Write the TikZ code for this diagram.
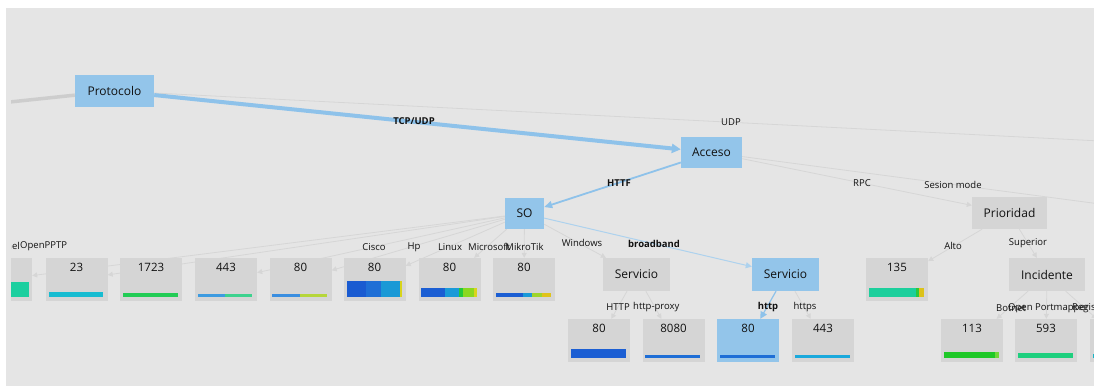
\documentclass[tikz,border=0pt]{standalone}
\usepackage{fontspec}
\setmainfont{Open Sans}
\usetikzlibrary{arrows.meta}
\definecolor{bgc}{HTML}{E5E5E5}
\definecolor{boxgray}{HTML}{D5D5D5}
\definecolor{boxblue}{HTML}{93C5EA}
\definecolor{edgeblue}{HTML}{8EC2EA}
\definecolor{edgeblueL}{HTML}{ADD2EE}
\definecolor{edgec}{HTML}{D6D6D6}
\definecolor{thickgray}{HTML}{CDCDCD}
\definecolor{txt}{HTML}{111111}
\pgfdeclarelayer{bglayer}
\pgfdeclarelayer{edgelayer}
\pgfsetlayers{bglayer,edgelayer,main}
\newcommand\barseg[5]{\definecolor{tmpbar}{HTML}{#2}\fill[tmpbar] ([xshift=#3pt,yshift=4.5pt]#1.south west) rectangle ([xshift=#4pt,yshift=4.5pt+#5pt]#1.south west);}
\tikzset{
  nodebase/.style={inner sep=0pt, text=txt, font=\fontsize{12}{14}\selectfont},
  bluebox/.style={nodebase, fill=boxblue},
  graybox/.style={nodebase, fill=boxgray},
  numbox/.style={fill=boxgray, minimum width=62pt, minimum height=43pt, inner sep=0pt,
    text height=9pt, text depth=26pt, font=\fontsize{11.5}{13}\selectfont, text=txt},
  numboxblue/.style={numbox, fill=boxblue},
  edge/.style={draw=edgec, line width=0.8pt, -{Triangle[length=5pt,width=5pt]}},
  lbl/.style={font=\fontsize{9.5}{11}\selectfont, text=txt, inner sep=0pt},
  lblb/.style={font=\fontsize{9.5}{11}\selectfont\bfseries, text=txt, inner sep=0pt},
}
\begin{document}
\begin{tikzpicture}[x=1pt,y=-1pt]
\useasboundingbox (0,0) rectangle (1094,387);
\begin{pgfonlayer}{bglayer}
  \fill[white] (0,0) rectangle (1094,387);
  \fill[bgc] (6,8) rectangle (1094,386);
\end{pgfonlayer}
\begin{scope}
\clip (11,8) rectangle (1094,386);
% main nodes
\node[bluebox, minimum width=79pt, minimum height=32pt] (proto) at (114.5,91) {Protocolo};
\node[bluebox, minimum width=61pt, minimum height=31pt] (acceso) at (711.5,152.5) {Acceso};
\node[bluebox, minimum width=39pt, minimum height=31pt] (so) at (524.5,213.5) {SO};
\node[graybox, minimum width=75pt, minimum height=32pt] (prio) at (1009.5,213) {Prioridad};
\node[graybox, minimum width=67pt, minimum height=33pt] (srvA) at (636.5,274.5) {Servicio};
\node[bluebox, minimum width=67pt, minimum height=33pt] (srvB) at (785.5,274.5) {Servicio};
\node[graybox, minimum width=76pt, minimum height=33pt] (inc) at (1047,274.5) {Incidente};
% number boxes row 1
\node[numbox] (bA) at (1,279.5) {};
\node[numbox] (b23) at (76.5,279.5) {23};
\node[numbox] (b1723) at (151,279.5) {1723};
\node[numbox] (b443) at (226,279.5) {443};
\node[numbox] (b80a) at (300.5,279.5) {80};
\node[numbox] (b80c) at (374.5,279.5) {80};
\node[numbox] (b80l) at (449.5,279.5) {80};
\node[numbox] (b80m) at (524,279.5) {80};
\node[numbox] (b135) at (897,279.5) {135};
% row 2
\node[numbox] (b80h) at (599,340.5) {80};
\node[numbox] (b8080) at (673.5,340.5) {8080};
\node[numboxblue] (b80b) at (748,340.5) {80};
\node[numbox] (b443s) at (823,340.5) {443};
\node[numbox] (b113) at (972,340.5) {113};
\node[numbox] (b593) at (1046,340.5) {593};
\node[numbox] (bX) at (1121,340.5) {};
% bars
\barseg{bA}{1CCF9F}{3}{59}{15}
\barseg{b23}{17BCD1}{4}{58}{5}
\barseg{b1723}{22CC55}{3}{58}{4}
\barseg{b443}{3D9BE0}{3}{30}{3}
\barseg{b443}{3DD28E}{30}{57}{3}
\barseg{b80a}{3A8EE0}{3}{31}{3}
\barseg{b80a}{B6D63A}{31}{58}{3}
\barseg{b80c}{1A5BD1}{4}{23}{16}
\barseg{b80c}{1F6FD6}{23}{38}{16}
\barseg{b80c}{1A99D6}{38}{57}{16}
\barseg{b80c}{D8D41A}{57}{59}{16}
\barseg{b80l}{1B5ED3}{3}{27}{9}
\barseg{b80l}{1A9AD8}{27}{41}{9}
\barseg{b80l}{22C93C}{41}{45}{9}
\barseg{b80l}{8AD820}{45}{56}{9}
\barseg{b80l}{D9D41C}{56}{59}{9}
\barseg{b80m}{1B5ED3}{3}{30}{4}
\barseg{b80m}{1A9AD8}{30}{39}{4}
\barseg{b80m}{9ED52B}{39}{49}{4}
\barseg{b80m}{E0C31A}{49}{58}{4}
\barseg{b135}{1CCF9C}{3}{50}{9}
\barseg{b135}{2CC83A}{50}{53}{9}
\barseg{b135}{DCC21A}{53}{58}{9}
\barseg{b80h}{1B5ED3}{3}{58}{9}
\barseg{b8080}{1E6ED6}{3}{58}{3}
\barseg{b80b}{1E6ED6}{3}{58}{3}
\barseg{b443s}{1AA9DC}{3}{58}{3}
\barseg{b113}{1FC828}{3}{54}{6}
\barseg{b113}{6FD83A}{54}{58}{6}
\barseg{b593}{1ECF7E}{3}{58}{5}
\barseg{bX}{1AB3C4}{3}{58}{4}
% free ends
\coordinate (offL) at (5,102.5);
\coordinate (offR1) at (1100,141);
\coordinate (offR2) at (1100,204);
% edge labels
\node[lblb] (lTCP) at (414,121) {TCP/UDP};
\node[lbl] (lUDP) at (731,122) {UDP};
\node[lblb] (lHTTF) at (619,183) {HTTF};
\node[lbl] (lRPC) at (862,183) {RPC};
\node[lbl] (lSes) at (953,185) {Sesion mode};
\node[lbl, anchor=east] (lTun) at (20,246) {Tunnel};
\node[lbl, anchor=west] (lPPTP) at (20,246) {OpenPPTP};
\node[lbl] (lCisco) at (374,247) {Cisco};
\node[lbl] (lHp) at (414,247) {Hp};
\node[lbl] (lLinux) at (450,247) {Linux};
\node[lbl, anchor=west] (lMS) at (468,247) {Microsoft};
\node[lbl] (lMikro) at (524.5,247) {MikroTik};
\node[lbl] (lWin) at (582,243) {Windows};
\node[lblb] (lBroad) at (654,244) {broadband};
\node[lbl] (lHTTP) at (618,307) {HTTP};
\node[lbl, anchor=west] (lProxy) at (633,307) {http-proxy};
\node[lblb] (lhttp) at (768,307) {http};
\node[lbl] (lhttps) at (805,307) {https};
\node[lbl] (lAlto) at (953,246) {Alto};
\node[lbl] (lSup) at (1028,243) {Superior};
\node[lbl, anchor=west] (lBot) at (996,308) {Botnet};
\node[lbl, anchor=west] (lOpen) at (1008,308) {Open Portmapper};
\node[lbl, anchor=west] (lReg) at (1072,308) {Registro};
\end{scope}
\begin{pgfonlayer}{edgelayer}
\begin{scope}
\clip (11,8) rectangle (1094,386);
\draw[thickgray, line width=3.5pt] (proto) -- (offL);
\draw[edgec, line width=0.8pt] (proto) -- (offR1);
\draw[edgeblue, line width=4pt, -{Triangle[length=9pt,width=9pt]}] (proto) -- (acceso);
\draw[edgeblue, line width=1.8pt, -{Triangle[length=8pt,width=7pt]}] (acceso) -- (so);
\draw[edge] (acceso) -- (prio);
\draw[edgec, line width=0.8pt] (acceso) -- (offR2);
\draw[edge] (so) -- (bA);
\draw[edge] (so) -- (b23);
\draw[edge] (so) -- (b443);
\draw[edge] (so) -- (b80a);
\draw[edge] (so) -- (b80c);
\draw[edge] (so) -- (b80l);
\draw[edge] (so) -- (b80m);
\draw[edge] (so) -- (srvA);
\draw[edgeblueL, line width=1pt, -{Triangle[length=6pt,width=6pt]}] (so) -- (srvB);
\draw[edge] (srvA) -- (b80h);
\draw[edge] (srvA) -- (b8080);
\draw[edgeblue, line width=1.2pt, -{Triangle[length=7pt,width=7pt]}] (srvB) -- (b80b);
\draw[edge] (srvB) -- (b443s);
\draw[edge] (prio) -- (b135);
\draw[edge] (prio) -- (inc);
\draw[edge] (inc) -- (b113);
\draw[edge] (inc) -- (b593);
\draw[edge] (inc) -- (bX);
\end{scope}
\end{pgfonlayer}
\end{tikzpicture}
\end{document}
